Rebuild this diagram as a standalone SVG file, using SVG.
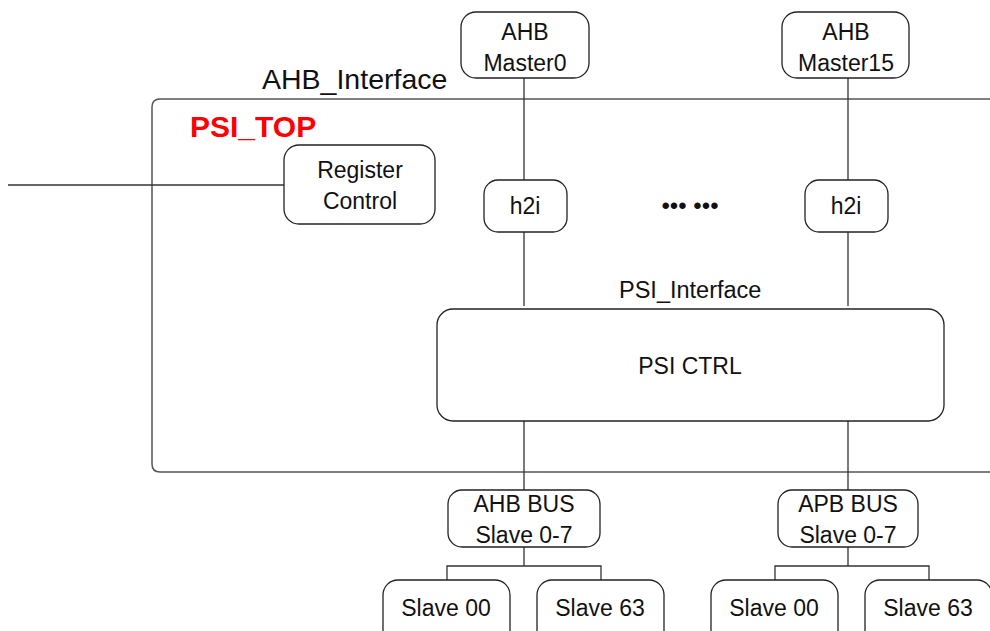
<svg xmlns="http://www.w3.org/2000/svg" width="990" height="631" viewBox="0 0 990 631">
<style>
.box{fill:#fff;stroke:#222;stroke-width:1.3}
.frame{fill:none;stroke:#555;stroke-width:1.5}
.wire{fill:none;stroke:#333;stroke-width:1.3}
text{font-family:"Liberation Sans",Arial,sans-serif;font-size:23px;fill:#111;text-anchor:middle}
.lbl{text-anchor:start}
</style>
<rect width="990" height="631" fill="#fff"/>
<g id="psi_top">
<path class="frame" d="M995 99 H160 Q152 99 152 107 V464 Q152 472 160 472 H995"/>
<text x="190" y="137" class="lbl" style="font-size:30px;font-weight:bold;fill:#f00">PSI_TOP</text>
</g>
<text x="262" y="89" class="lbl" style="font-size:28.5px">AHB_Interface</text>
<text x="619" y="298" class="lbl" style="font-size:23.5px">PSI_Interface</text>
<text x="690" y="214" style="font-size:24px">••• •••</text>
<g id="connectors">
<path class="wire" d="M8 185 H284"/>
<path class="wire" d="M524 78 V180 M524 232 V306"/>
<path class="wire" d="M848 78 V180 M848 232 V306"/>
<path class="wire" d="M524 421 V490 M848 421 V490"/>
<path class="wire" d="M524 547 V566 M447 580 V566 H601 V580"/>
<path class="wire" d="M848 547 V566 M775 580 V566 H929 V580"/>
</g>
<g id="master0"><rect class="box" x="461" y="12" width="128" height="66" rx="15"/><text x="525" y="40">AHB</text><text x="525" y="71">Master0</text></g>
<g id="master15"><rect class="box" x="782" y="12" width="127" height="66" rx="15"/><text x="846" y="40">AHB</text><text x="846" y="71">Master15</text></g>
<g id="register_control"><rect class="box" x="284" y="145" width="151" height="79" rx="15"/><text x="360" y="178">Register</text><text x="360" y="209">Control</text></g>
<g id="h2i_0"><rect class="box" x="484" y="180" width="83" height="52" rx="14"/><text x="525" y="214">h2i</text></g>
<g id="h2i_15"><rect class="box" x="805" y="180" width="83" height="52" rx="14"/><text x="846" y="214">h2i</text></g>
<g id="psi_ctrl"><rect class="box" x="437" y="309" width="507" height="112" rx="16"/><text x="690" y="374">PSI CTRL</text></g>
<g id="ahb_bus"><rect class="box" x="448" y="490" width="152" height="57" rx="14"/><text x="524" y="512">AHB BUS</text><text x="524" y="543">Slave 0-7</text></g>
<g id="apb_bus"><rect class="box" x="778" y="490" width="140" height="57" rx="14"/><text x="848" y="512">APB BUS</text><text x="848" y="543">Slave 0-7</text></g>
<g id="ahb_slave00"><rect class="box" x="383" y="580" width="127" height="66" rx="15"/><text x="446" y="616">Slave 00</text></g>
<g id="ahb_slave63"><rect class="box" x="537" y="580" width="127" height="66" rx="15"/><text x="600" y="616">Slave 63</text></g>
<g id="apb_slave00"><rect class="box" x="711" y="580" width="127" height="66" rx="15"/><text x="774" y="616">Slave 00</text></g>
<g id="apb_slave63"><rect class="box" x="865" y="580" width="127" height="66" rx="15"/><text x="928" y="616">Slave 63</text></g>
</svg>
